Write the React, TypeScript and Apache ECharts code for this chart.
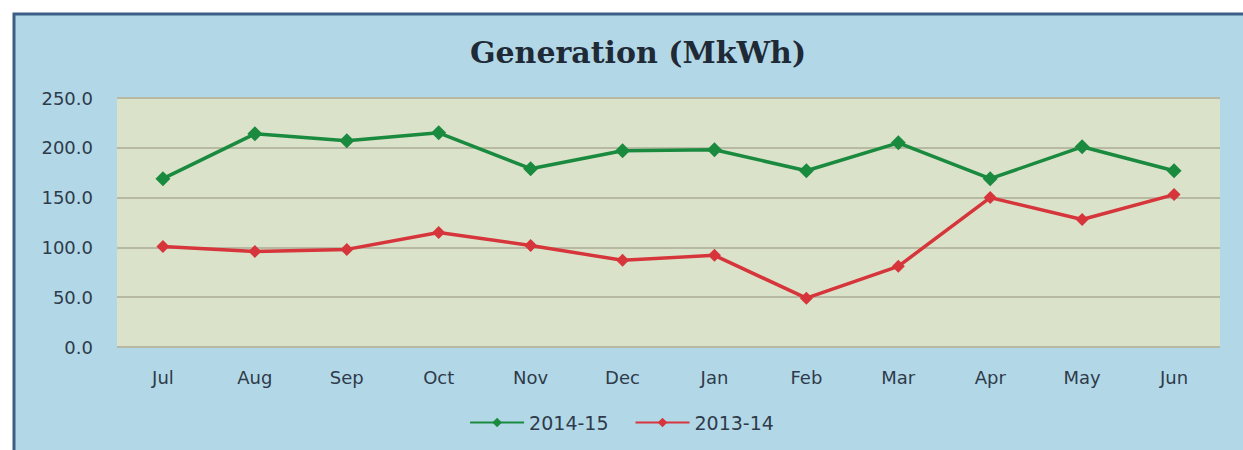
import React, { useEffect, useRef } from "react";
import * as echarts from "echarts";

const categories = ["Jul", "Aug", "Sep", "Oct", "Nov", "Dec", "Jan", "Feb", "Mar", "Apr", "May", "Jun"];
const gen2014_15 = [169, 214, 207, 215, 179, 197, 198, 177, 205, 169, 201, 177];
const gen2013_14 = [101, 96, 98, 115, 102, 87, 92, 49, 81, 150, 128, 153];
const yTicks = { min: 0, max: 250, interval: 50 };

export default function App() {
  const ref = useRef<HTMLDivElement>(null);
  useEffect(() => {
    if (!ref.current) return;
    const chart = echarts.init(ref.current, null, { renderer: "svg" });
    const labelFont = "'DejaVu Sans', sans-serif";
    const textColor = "#2f3b4a";
    chart.setOption({
      animation: false,
      backgroundColor: "#ffffff",
      graphic: [
        {
          type: "rect",
          z: -10,
          shape: { x: 14, y: 14, width: 1260, height: 460 },
          style: { fill: "#b2d8e8", stroke: "#3c5d86", lineWidth: 3 },
        },
      ],
      title: {
        text: "Generation (MkWh)",
        left: 633,
        top: 32,
        textAlign: "center",
        textStyle: {
          fontFamily: "'DejaVu Serif', serif",
          fontWeight: "bold",
          fontSize: 30,
          color: "#1f2a36",
        },
      },
      legend: {
        bottom: 13,
        left: "center",
        itemWidth: 54,
        itemHeight: 12,
        itemGap: 26,
        textStyle: { fontFamily: labelFont, fontSize: 19, color: textColor },
        data: ["2014-15", "2013-14"],
      },
      grid: {
        left: 117,
        right: 23,
        top: 98,
        bottom: 103,
        show: true,
        backgroundColor: "#dae2c9",
        borderWidth: 0,
      },
      xAxis: {
        type: "category",
        data: categories,
        boundaryGap: true,
        axisLine: { show: false },
        axisTick: { show: false },
        axisLabel: { margin: 21, fontFamily: labelFont, fontSize: 18, color: textColor },
      },
      yAxis: {
        type: "value",
        min: yTicks.min,
        max: yTicks.max,
        interval: yTicks.interval,
        axisLine: { show: false },
        axisTick: { show: false },
        splitLine: { lineStyle: { color: "#b7b9a2", width: 2 } },
        axisLabel: {
          margin: 24,
          fontFamily: labelFont,
          fontSize: 18,
          color: textColor,
          formatter: (v: number) => v.toFixed(1),
        },
      },
      series: [
        {
          name: "2014-15",
          type: "line",
          data: gen2014_15,
          symbol: "diamond",
          symbolSize: 15,
          lineStyle: { width: 3.5, color: "#1a8a3f" },
          itemStyle: { color: "#1a8a3f" },
        },
        {
          name: "2013-14",
          type: "line",
          data: gen2013_14,
          symbol: "diamond",
          symbolSize: 13,
          lineStyle: { width: 3.5, color: "#d6353b" },
          itemStyle: { color: "#d6353b" },
        },
      ],
    });
    return () => chart.dispose();
  }, []);
  return (
    <div
      ref={ref}
      style={{ position: "fixed", left: 0, top: 0, width: 1243, height: 450 }}
    />
  );
}
